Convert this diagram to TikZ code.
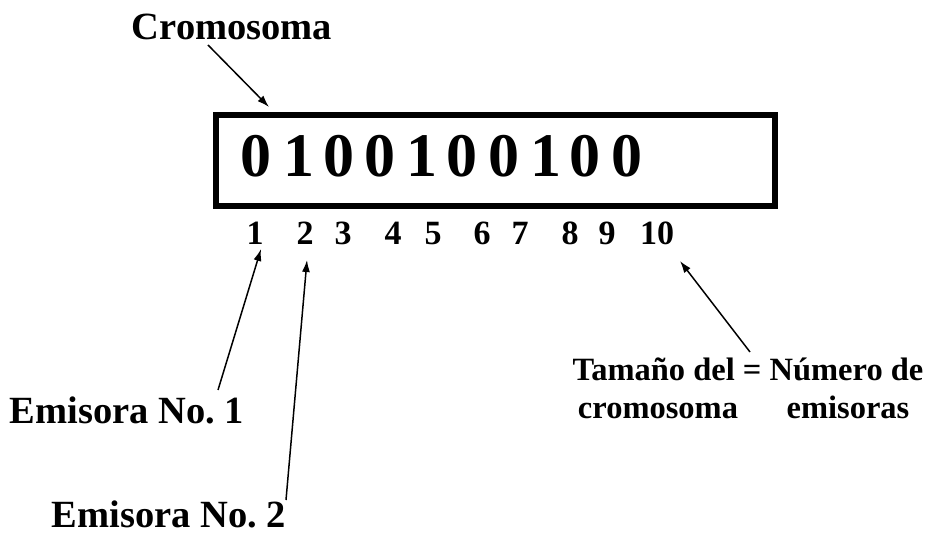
\documentclass[tikz,border=0pt]{standalone}
\usepackage{fontspec}
\setmainfont{Liberation Serif}
\usetikzlibrary{arrows.meta}
\begin{document}
\frenchspacing
\begin{tikzpicture}[x=1pt,y=-1pt,
  lbl/.style={font=\bfseries\fontsize{38.5}{40}\selectfont, inner sep=0pt, anchor=base},
  bit/.style={font=\bfseries\fontsize{62}{64}\selectfont, inner sep=0pt, anchor=base},
  idx/.style={font=\bfseries\fontsize{34}{36}\selectfont, inner sep=0pt, anchor=base},
  note/.style={font=\bfseries\fontsize{32.5}{34}\selectfont, inner sep=0pt, anchor=base},
  ptr/.style={line width=1.5pt, -{Latex[length=12pt,width=8pt]}}]
\useasboundingbox (0,0) rectangle (932,537);
% chromosome box
\node[draw, line width=6pt, minimum width=559pt, minimum height=91pt, inner sep=0pt] (box) at (495.5,160.5) {};
% title
\node[lbl] (cromo) at (232,40) {Cromosoma};
% bits
\foreach \x/\d [count=\i] in {256/0,299/1,339/0,380/0,422/1,462/0,504/0,546/1,585/0,627/0}
  \node[bit] (b\i) at (\x,177) {\d};
% indices
\foreach \x/\d in {255/1,305/2,343/3,393/4,433/5,482/6,520/7,570/8,607/9,657/10}
  \node[idx] (n\d) at (\x,245) {\d};
% labels
\node[lbl] (em1) at (127,423) {Emisora No. 1};
\node[lbl] (em2) at (169,527) {Emisora No. 2};
\node[note] (size1) at (748,381) {Tamaño del = Número de};
\node[note] (size2) at (658,418) {cromosoma};
\node[note] (size3) at (848,418) {emisoras};
% connector ends
\coordinate (cT) at (208,45);
\coordinate (cH) at (269,107);
\coordinate (e1T) at (218,390);
\coordinate (e1H) at (261,249);
\coordinate (e2T) at (286,500);
\coordinate (e2H) at (307,260);
\coordinate (sT) at (750,352);
\coordinate (sH) at (680,261);
\draw[ptr] (cT) -- (cH);
\draw[ptr] (e1T) -- (e1H);
\draw[ptr] (e2T) -- (e2H);
\draw[ptr] (sT) -- (sH);
\end{tikzpicture}
\end{document}
